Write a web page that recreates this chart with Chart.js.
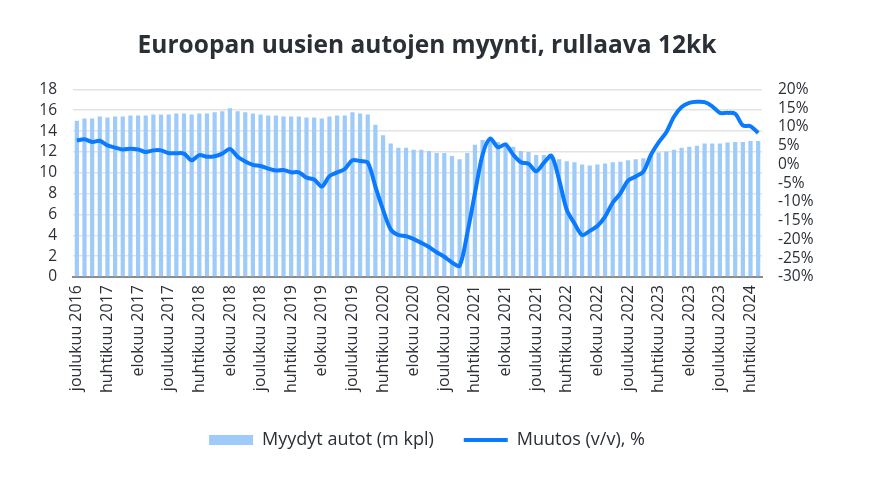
<!DOCTYPE html>
<html>
<head>
<meta charset="utf-8">
<script src="https://cdn.jsdelivr.net/npm/chart.js@4.4.1/dist/chart.umd.min.js"></script>
<style>
  html, body { margin: 0; padding: 0; background: #fff; }
  #wrap { width: 894px; height: 477px; }
</style>
</head>
<body>
<div id="wrap"><canvas id="chart"></canvas></div>
<script>
// kuukaudet joulukuu 2016 - toukokuu 2024
var monthNames = ['tammikuu', 'helmikuu', 'maaliskuu', 'huhtikuu', 'toukokuu', 'kesäkuu',
    'heinäkuu', 'elokuu', 'syyskuu', 'lokakuu', 'marraskuu', 'joulukuu'];
var startYear = 2016;
var startMonth = 11; // joulukuu
var monthCount = 90;

// myydyt autot, miljoonaa kpl (rullaava 12kk)
var soldCars = [
    15.0, 15.2, 15.2, 15.4, 15.3, 15.4, 15.4, 15.5, 15.5, 15.5,
    15.6, 15.6, 15.6, 15.7, 15.7, 15.6, 15.7, 15.7, 15.8, 15.9,
    16.2, 15.9, 15.8, 15.7, 15.6, 15.5, 15.5, 15.4, 15.4, 15.4,
    15.3, 15.3, 15.2, 15.4, 15.5, 15.5, 15.8, 15.7, 15.6, 14.6,
    13.6, 12.8, 12.4, 12.4, 12.2, 12.2, 12.1, 11.9, 11.9, 11.6,
    11.3, 11.9, 12.7, 13.15, 13.3, 12.95, 12.9, 12.5, 12.1, 12.0,
    11.7, 11.7, 11.7, 11.3, 11.1, 11.0, 10.8, 10.7, 10.8, 10.9,
    11.0, 11.05, 11.2, 11.3, 11.4, 11.8, 11.95, 12.05, 12.2, 12.4,
    12.5, 12.6, 12.8, 12.8, 12.8, 12.9, 12.95, 12.95, 13.05, 13.05
];

// muutos v/v, %
var yoyChange = [
    6.4, 6.7, 6.0, 6.3, 5.1, 4.5, 4.0, 4.2, 4.0, 3.3,
    3.75, 3.75, 3.0, 3.0, 2.9, 1.1, 2.5, 2.05, 2.2, 2.9,
    4.1, 2.05, 0.8, -0.1, -0.4, -1.1, -1.6, -1.5, -2.1, -2.1,
    -3.5, -4.0, -5.9, -3.1, -2.1, -1.2, 1.1, 0.9, 0.5, -5.9,
    -12.1, -17.3, -18.8, -19.1, -19.9, -20.9, -22.0, -23.4, -24.6, -26.1,
    -27.0, -18.4, -7.7, 2.6, 6.9, 4.6, 5.3, 2.6, 0.6, 0.2,
    -1.8, 0.4, 2.3, -4.1, -12.1, -15.7, -18.8, -17.7, -16.4, -13.9,
    -10.2, -7.7, -4.3, -3.2, -1.9, 2.6, 5.9, 8.6, 12.7, 15.3,
    16.4, 16.7, 16.6, 15.5, 13.75, 13.75, 13.5, 10.4, 10.2, 8.4
];

var labels = [];
for (var i = 0; i < monthCount; i++) {
    var m = (startMonth + i) % 12;
    var y = startYear + Math.floor((startMonth + i) / 12);
    labels.push(monthNames[m] + ' ' + y);
}

var fontFamily = "'Open Sans', 'DejaVu Sans', sans-serif";
var textColor = '#2b2f36';

new Chart(document.getElementById('chart'), {
    data: {
        labels: labels,
        datasets: [
            {
                type: 'line',
                label: 'Muutos (v/v), %',
                data: yoyChange,
                yAxisID: 'y1',
                borderColor: '#0A7AFF',
                backgroundColor: '#0A7AFF',
                borderWidth: 4,
                pointRadius: 0,
                tension: 0.3,
                pointStyle: 'line',
                order: 1
            },
            {
                type: 'bar',
                label: 'Myydyt autot (m kpl)',
                data: soldCars,
                yAxisID: 'y',
                backgroundColor: '#9ECBFA',
                borderWidth: 0,
                barPercentage: 0.55,
                categoryPercentage: 1.0,
                pointStyle: 'rect',
                order: 2
            }
        ]
    },
    options: {
        responsive: true,
        maintainAspectRatio: false,
        animation: false,
        layout: { padding: { left: 20, right: 60, top: 0, bottom: 18 } },
        plugins: {
            title: {
                display: true,
                text: 'Euroopan uusien autojen myynti, rullaava 12kk',
                color: textColor,
                font: { family: fontFamily, size: 24.5, weight: 'bold' },
                padding: { top: 31, bottom: 29 }
            },
            legend: {
                position: 'bottom',
                reverse: true,
                labels: {
                    color: textColor,
                    font: { family: fontFamily, size: 18 },
                    usePointStyle: true,
                    pointStyleWidth: 44,
                    boxHeight: 10,
                    padding: 30
                }
            },
            tooltip: { enabled: false }
        },
        scales: {
            x: {
                offset: true,
                grid: { display: false, drawTicks: false },
                border: { display: true, color: '#8a8a8a', width: 2 },
                ticks: {
                    color: textColor,
                    font: { family: fontFamily, size: 16 },
                    maxRotation: 90,
                    minRotation: 90,
                    autoSkip: false,
                    padding: 8,
                    callback: function (value, index) {
                        return index % 4 === 0 ? this.getLabelForValue(value) : '';
                    }
                }
            },
            y: {
                position: 'left',
                min: 0,
                max: 18,
                ticks: {
                    stepSize: 2,
                    autoSkip: false,
                    color: textColor,
                    font: { family: fontFamily, size: 15.5 },
                    padding: 16
                },
                grid: { color: '#e3e3e3', lineWidth: 1.5, drawTicks: false },
                border: { display: false },
                afterFit: function (scale) { scale.width = 53; }
            },
            y1: {
                position: 'right',
                min: -30,
                max: 20,
                ticks: {
                    stepSize: 5,
                    autoSkip: false,
                    color: textColor,
                    font: { family: fontFamily, size: 15.5 },
                    padding: 16,
                    callback: function (value) { return value + '%'; }
                },
                grid: { display: false, drawTicks: false },
                border: { display: false },
                afterFit: function (scale) { scale.width = 72; }
            }
        }
    }
});
</script>
</body>
</html>
